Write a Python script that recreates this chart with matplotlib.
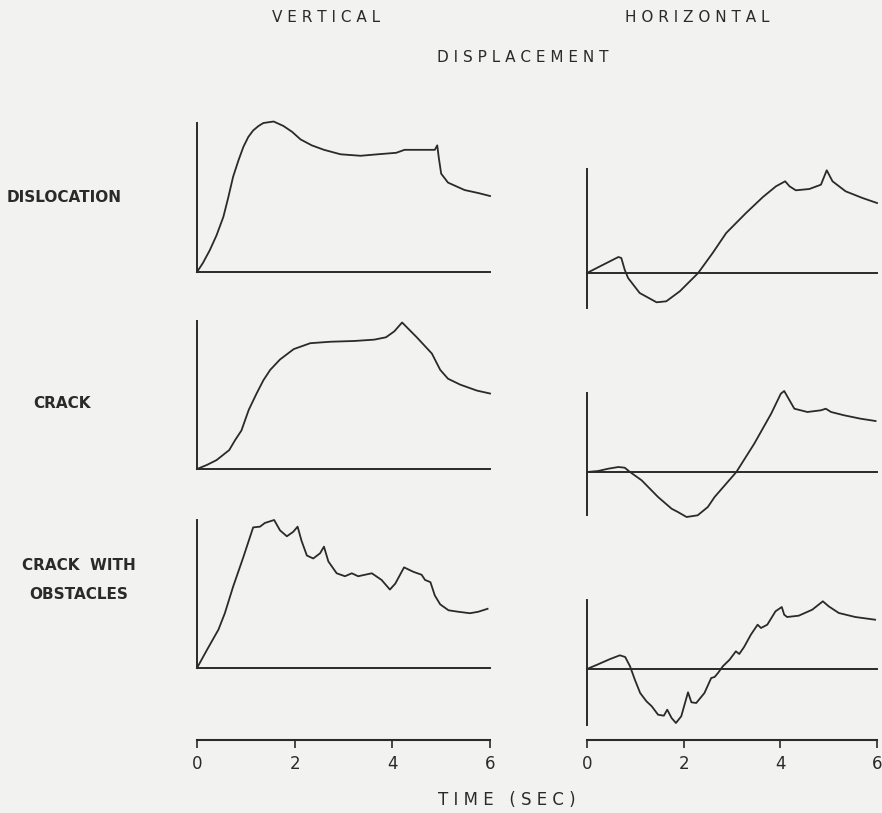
import matplotlib
matplotlib.use("Agg")
import matplotlib.pyplot as plt
import numpy as np

W, H = 882, 813
BG = "#f2f2f0"
INK = "#2a2a2a"

# ---- data (time in sec, relative displacement) ----
# vertical displacement, normalised to the axis height
t_vert_disl = [0, 0.12, 0.26, 0.40, 0.54, 0.64, 0.74, 0.85, 0.95, 1.05, 1.15, 1.26, 1.36,
               1.57, 1.77, 1.95, 2.12, 2.35, 2.6, 2.94, 3.35, 3.7, 4.08, 4.25, 4.66, 4.87,
               4.92, 4.95, 5.0, 5.14, 5.48, 5.76, 6.0]
v_vert_disl = [0, 0.06, 0.145, 0.246, 0.37, 0.50, 0.64, 0.75, 0.84, 0.906, 0.95, 0.98, 1.0,
               1.01, 0.98, 0.94, 0.89, 0.85, 0.82, 0.79, 0.78, 0.79, 0.80, 0.82, 0.82, 0.82,
               0.85, 0.77, 0.66, 0.60, 0.55, 0.53, 0.51]

t_vert_crack = [0, 0.2, 0.4, 0.66, 0.78, 0.91, 1.06, 1.22, 1.36, 1.5, 1.7, 1.98, 2.32,
                2.74, 3.22, 3.63, 3.87, 4.04, 4.2, 4.5, 4.81, 4.98, 5.14, 5.39, 5.73, 6.0]
v_vert_crack = [0, 0.027, 0.06, 0.128, 0.195, 0.26, 0.40, 0.51, 0.60, 0.67, 0.74, 0.81,
                0.85, 0.86, 0.865, 0.874, 0.89, 0.93, 0.99, 0.89, 0.78, 0.67, 0.61, 0.57,
                0.53, 0.51]

t_vert_obst = [0, 0.2, 0.44, 0.57, 0.74, 0.95, 1.15, 1.29, 1.39, 1.58, 1.70, 1.84, 1.97,
               2.06, 2.14, 2.25, 2.38, 2.52, 2.6, 2.69, 2.86, 3.03, 3.17, 3.30, 3.58, 3.78,
               3.95, 4.06, 4.24, 4.43, 4.6, 4.67, 4.78, 4.87, 4.98, 5.15, 5.35, 5.59, 5.76,
               5.95]
v_vert_obst = [0, 0.12, 0.26, 0.37, 0.55, 0.75, 0.95, 0.955, 0.98, 1.0, 0.93, 0.89, 0.92,
               0.955, 0.86, 0.76, 0.74, 0.775, 0.82, 0.72, 0.64, 0.62, 0.64, 0.62, 0.64,
               0.595, 0.53, 0.57, 0.68, 0.65, 0.63, 0.595, 0.58, 0.49, 0.43, 0.39, 0.38,
               0.37, 0.38, 0.40]

# horizontal displacement, arbitrary units (zero line = 0)
t_hor_disl = [0, 0.27, 0.65, 0.71, 0.78, 0.85, 1.09, 1.44, 1.64, 1.92, 2.30, 2.60, 2.88,
              3.29, 3.64, 3.91, 4.10, 4.19, 4.32, 4.60, 4.84, 4.96, 5.08, 5.35, 5.70, 6.0]
v_hor_disl = [0, 6.7, 16, 15, 3.3, -5, -20, -29.3, -28.3, -18.3, 0, 20, 40, 60, 76, 86.7,
              91.7, 86.7, 82.7, 84, 88.3, 102.7, 91.7, 81.7, 75, 70]

t_hor_crack = [0, 0.23, 0.44, 0.65, 0.78, 0.89, 1.13, 1.47, 1.75, 1.88, 2.06, 2.29, 2.5,
               2.64, 3.09, 3.46, 3.81, 4.01, 4.08, 4.19, 4.29, 4.56, 4.84, 4.94, 5.05, 5.32,
               5.66, 5.97]
v_hor_crack = [0, 1, 3.3, 5, 4.3, 0, -8.3, -25, -36.7, -40, -45, -43.3, -35, -25, 0, 28.3,
               58.3, 78.3, 81, 71.7, 63.3, 60, 61.7, 63.3, 60, 56.7, 53.3, 51]

t_hor_obst = [0, 0.21, 0.48, 0.68, 0.79, 0.89, 0.99, 1.10, 1.23, 1.34, 1.47, 1.59, 1.66,
              1.75, 1.84, 1.95, 2.09, 2.16, 2.26, 2.43, 2.57, 2.64, 2.71, 2.81, 2.95, 3.08,
              3.15, 3.25, 3.39, 3.53, 3.60, 3.73, 3.90, 4.03, 4.08, 4.14, 4.38, 4.66, 4.88,
              5.0, 5.21, 5.55, 5.96]
v_hor_obst = [0, 4.3, 10, 13.7, 12, 2.7, -10.7, -24, -32.3, -37.3, -45.7, -46.7, -40.7,
              -49, -54, -47.3, -23.3, -33.3, -34, -24, -9, -8, -4, 2.7, 9.3, 17.7, 15, 22,
              34.3, 44.3, 41, 44.3, 57.7, 62, 54.3, 52, 53.3, 59.3, 67.7, 62.7, 56, 52, 49.3]

rows = ["DISLOCATION", "CRACK", "CRACK  WITH\nOBSTACLES"]
time_ticks = [0, 2, 4, 6]


def px_axes(fig, left, top, right, bottom):
    return fig.add_axes([left / W, 1 - bottom / H, (right - left) / W, (bottom - top) / H])


def panel(fig, box, t, v, ylim):
    ax = px_axes(fig, *box)
    ax.set_xlim(0, 6)
    ax.set_ylim(*ylim)
    ax.axis("off")
    ax.axvline(0, color=INK, lw=1.4, clip_on=False)
    ax.axhline(0, color=INK, lw=1.4, clip_on=False)
    ax.plot(t, v, color=INK, lw=1.3, solid_joinstyle="round", clip_on=False)
    return ax


def time_axis(fig, left, right, y):
    ax = px_axes(fig, left, y - 10, right, y)
    ax.set_xlim(0, 6)
    ax.set_facecolor("none")
    for s in ["top", "left", "right"]:
        ax.spines[s].set_visible(False)
    ax.spines["bottom"].set_linewidth(1.5)
    ax.spines["bottom"].set_color(INK)
    ax.set_yticks([])
    ax.set_xticks(time_ticks)
    ax.tick_params(axis="x", direction="out", length=6, width=1.2, colors=INK,
                   labelsize=12, pad=5)
    return ax


fig = plt.figure(figsize=(W / 100, H / 100), dpi=100, facecolor=BG)

LX0, LX1 = 197, 490
RX0, RX1 = 587, 877

panel(fig, (LX0, 123, LX1, 272), t_vert_disl, v_vert_disl, (0, 1))
panel(fig, (LX0, 321, LX1, 469), t_vert_crack, v_vert_crack, (0, 1))
panel(fig, (LX0, 520, LX1, 668), t_vert_obst, v_vert_obst, (0, 1))

panel(fig, (RX0, 169, RX1, 308), t_hor_disl, v_hor_disl, (-35, 104))
panel(fig, (RX0, 393, RX1, 515), t_hor_crack, v_hor_crack, (-43, 79))
panel(fig, (RX0, 600, RX1, 725), t_hor_obst, v_hor_obst, (-56, 69))

time_axis(fig, LX0, LX1, 740)
time_axis(fig, RX0, RX1, 740)

spaced = lambda s: " ".join(s)
fig.text(326 / W, 1 - 18 / H, spaced("VERTICAL"), ha="center", va="center",
         fontsize=11, color=INK)
fig.text(697 / W, 1 - 18 / H, spaced("HORIZONTAL"), ha="center", va="center",
         fontsize=11, color=INK)
fig.text(523 / W, 1 - 58 / H, spaced("DISPLACEMENT"), ha="center", va="center",
         fontsize=11, color=INK)
fig.text(507 / W, 1 - 800 / H, "T I M E   ( S E C )", ha="center", va="center",
         fontsize=12, color=INK)

fig.text(7 / W, 1 - 198 / H, rows[0], ha="left", va="center", fontsize=11,
         fontweight="bold", color=INK)
fig.text(33 / W, 1 - 403 / H, rows[1], ha="left", va="center", fontsize=11,
         fontweight="bold", color=INK)
fig.text(79 / W, 1 - 580 / H, rows[2], ha="center", va="center", fontsize=11,
         fontweight="bold", color=INK, linespacing=2.2)

fig.savefig("out.png", dpi=100, facecolor=BG)
